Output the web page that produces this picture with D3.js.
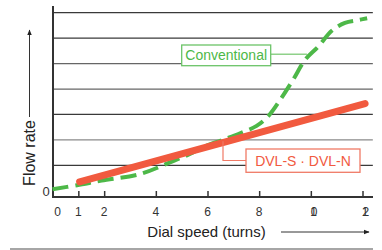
<!DOCTYPE html>
<html>
<head>
<meta charset="utf-8">
<script src="https://cdn.jsdelivr.net/npm/d3@7"></script>
<style>
  body { margin: 0; background: #fff; }
  svg { display: block; font-family: "Liberation Sans", Arial, sans-serif; }
</style>
</head>
<body>
<svg id="chart" width="382" height="250"></svg>
<script>
// dial speed (turns) vs flow rate
const tickSpeeds = [0, 1, 2, 4, 6, 8, 10, 12];
const tickLabels = ["0", "1", "2", "4", "6", "8", "10", "12"];
const gridLevels = [1, 2, 3, 4, 5, 6, 7];

const convSpeed = [0, 0.95, 1.9, 3.39, 4.67, 5.32, 5.83, 6.55, 7.26, 7.9, 8.34, 8.81, 9.31, 9.78, 10.28, 10.81, 11.32, 11.83, 12.18];
const convFlow  = [0.06, 0.22, 0.40, 0.66, 1.17, 1.45, 1.72, 1.99, 2.26, 2.55, 2.92, 3.57, 4.36, 5.15, 5.66, 6.29, 6.60, 6.71, 6.78];

const dvlSpeed = [1.05, 12.1];
const dvlFlow  = [0.35, 3.43];

const red = "#f15a3f", green = "#4db848";

const svg = d3.select("#chart");

const x = d3.scaleLinear().domain([0, 12]).range([52.5, 362.5]);
const y = d3.scaleLinear().domain([0, 7]).range([190.8, 12.7]);

// grid lines
const gridColor = d => (d === 2 ? "#8a8a8a" : (d === 4 || d === 5) ? "#666" : "#3a3a3a");
svg.append("g")
  .selectAll("line")
  .data(gridLevels)
  .enter().append("line")
  .attr("x1", x(0)).attr("x2", x(12.4))
  .attr("y1", d => y(d)).attr("y2", d => y(d))
  .attr("stroke", gridColor)
  .attr("stroke-width", 1.3);

// axes
svg.append("line")
  .attr("x1", 53).attr("x2", 53)
  .attr("y1", 6).attr("y2", 197.5)
  .attr("stroke", "#333").attr("stroke-width", 2);

const xAxis = svg.append("g")
  .attr("transform", "translate(0,197)")
  .call(d3.axisBottom(x).tickValues(tickSpeeds.filter(d => d > 0)).tickSize(-6).tickFormat(""));
xAxis.select(".domain").remove();
xAxis.selectAll(".tick line").attr("stroke", "#333").attr("stroke-width", 1.5);
svg.append("line")
  .attr("x1", 52).attr("x2", 373)
  .attr("y1", 197).attr("y2", 197)
  .attr("stroke", "#333").attr("stroke-width", 2);

svg.append("g")
  .selectAll("text")
  .data(tickSpeeds)
  .enter().append("text")
  .attr("x", (d, i) => x(d) + (d === 0 ? 5 : 0))
  .attr("y", 216)
  .attr("text-anchor", "middle")
  .attr("font-size", 12)
  .attr("fill", "#333")
  .style("letter-spacing", d => d >= 10 ? "-6px" : null)
  .text((d, i) => tickLabels[i]);

svg.append("text")
  .attr("x", 46).attr("y", y(0) + 5)
  .attr("text-anchor", "middle")
  .attr("font-size", 13)
  .attr("fill", "#333")
  .text("0");

// arrows
svg.append("defs").append("marker")
  .attr("id", "arr")
  .attr("viewBox", "0 0 10 10")
  .attr("refX", 9).attr("refY", 5)
  .attr("markerWidth", 6).attr("markerHeight", 6)
  .attr("markerUnits", "userSpaceOnUse")
  .attr("orient", "auto")
  .append("path").attr("d", "M0,1 L10,5 L0,9 Z").attr("fill", "#222");

svg.append("line")
  .attr("x1", 29.5).attr("x2", 29.5).attr("y1", 117).attr("y2", 30)
  .attr("stroke", "#333").attr("stroke-width", 1)
  .attr("marker-end", "url(#arr)");
svg.append("line")
  .attr("x1", 281).attr("x2", 369).attr("y1", 232).attr("y2", 232)
  .attr("stroke", "#333").attr("stroke-width", 1)
  .attr("marker-end", "url(#arr)");

// axis titles
svg.append("text")
  .attr("transform", "translate(35,153) rotate(-90)")
  .attr("text-anchor", "middle")
  .attr("font-size", 16)
  .attr("fill", "#222")
  .text("Flow rate");

svg.append("text")
  .attr("x", 206.5).attr("y", 237)
  .attr("text-anchor", "middle")
  .attr("font-size", 15)
  .attr("fill", "#222")
  .text("Dial speed (turns)");

// bottom rule
svg.append("line")
  .attr("x1", 10).attr("x2", 373).attr("y1", 249).attr("y2", 249)
  .attr("stroke", "#888").attr("stroke-width", 1.5);

// series
const line = d3.line()
  .x(d => x(d[0]))
  .y(d => y(d[1]))
  .curve(d3.curveCatmullRom.alpha(0.5));

svg.append("path")
  .datum(convSpeed.map((s, i) => [s, convFlow[i]]))
  .attr("d", line)
  .attr("fill", "none")
  .attr("stroke", green)
  .attr("stroke-width", 4)
  .attr("stroke-dasharray", "16,7");

svg.append("path")
  .datum(dvlSpeed.map((s, i) => [s, dvlFlow[i]]))
  .attr("d", d3.line().x(d => x(d[0])).y(d => y(d[1])))
  .attr("fill", "none")
  .attr("stroke", red)
  .attr("stroke-width", 7)
  .attr("stroke-linecap", "round");

// labels with leader lines
// Conventional
svg.append("line")
  .attr("x1", 270.7).attr("x2", x(9.85))
  .attr("y1", 54.3).attr("y2", 54.3)
  .attr("stroke", "#8fd18a").attr("stroke-width", 1.5);
svg.append("rect")
  .attr("x", 181.7).attr("y", 45)
  .attr("width", 89).attr("height", 20.7)
  .attr("fill", "#fff").attr("stroke", "#6cc468").attr("stroke-width", 1.3);
svg.append("text")
  .attr("x", 226.2).attr("y", 60)
  .attr("text-anchor", "middle")
  .attr("font-size", 14)
  .attr("fill", green)
  .text("Conventional");

// DVL-S · DVL-N
svg.append("polyline")
  .attr("points", `${x(6.6)},${y(1.95)} ${x(6.6)},160.5 246,160.5`)
  .attr("fill", "none")
  .attr("stroke", "#f07a66").attr("stroke-width", 1.2);
svg.append("rect")
  .attr("x", 246).attr("y", 149)
  .attr("width", 114).attr("height", 23.3)
  .attr("fill", "#fff").attr("stroke", "#f07a66").attr("stroke-width", 1.3);
svg.append("text")
  .attr("x", 303).attr("y", 165.8)
  .attr("text-anchor", "middle")
  .attr("font-size", 14)
  .attr("fill", red)
  .text("DVL-S · DVL-N");
</script>
</body>
</html>
